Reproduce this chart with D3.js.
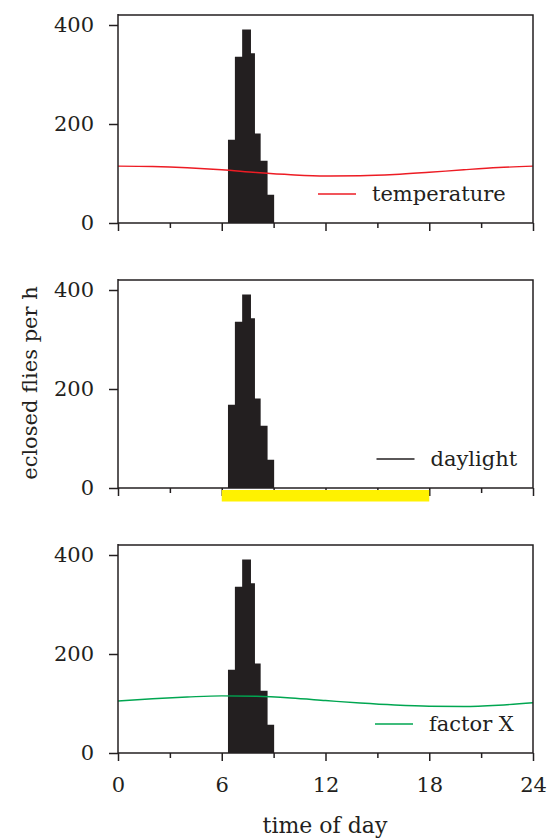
<!DOCTYPE html>
<html>
<head>
<meta charset="utf-8">
<script src="https://cdn.jsdelivr.net/npm/d3@7/dist/d3.min.js"></script>
<style>
  html, body { margin: 0; padding: 0; background: #fff; }
  svg text { font-family: "DejaVu Serif", "Liberation Serif", serif; fill: #231f20; }
</style>
</head>
<body>
<svg id="chart" width="547" height="840"></svg>
<script>
// Eclosion histogram: bin edges (hour of day) and flies per hour
const binStart = [6.36, 6.76, 7.18, 7.69, 7.92, 8.25, 8.65];
const binEnd   = [6.76, 7.18, 7.69, 7.92, 8.25, 8.65, 9.03];
const eclosed  = [168, 336, 391, 343, 181, 126, 57];

// Environmental cycles sampled every two hours (plotted on the same axis)
const hours       = [0, 2, 4, 6, 8, 10, 12, 14, 16, 18, 20, 22, 24];
const temperature = [115, 114, 111.5, 107.5, 102, 97.5, 95, 95.5, 98, 102.5, 107.5, 112, 115];
const factorX     = [105, 109.5, 113, 115.5, 114.5, 111, 106, 101, 97, 94.5, 94, 96.5, 101.5];

// Lights on / lights off
const lightPhase = [6, 18];

// Axis ticks
const xTicks = [0, 3, 6, 9, 12, 15, 18, 21, 24];
const xTickLabels = [0, 6, 12, 18, 24];
const yTicks = [0, 200, 400];

const INK = "#231f20";
const svg = d3.select("#chart");

const x = d3.scaleLinear().domain([0, 24]).range([118, 533]);

// Histogram as one stepped outline: each bin starts at binStart, the last one closes at its binEnd
const histPoints = eclosed.map((v, k) => ({ t: binStart[k], v }))
  .concat([{ t: binEnd[binEnd.length - 1], v: eclosed[eclosed.length - 1] }]);

// Three stacked panels
const panels = [
  { base: 223, legend: "temperature", color: "#ed1c24", curve: temperature, legendX: 318 },
  { base: 488, legend: "daylight",    color: INK,       curve: null,        legendX: 376.5, light: true },
  { base: 753, legend: "factor X",    color: "#00a651", curve: factorX,     legendX: 375 }
];

panels.forEach((p, i) => {
  const y = d3.scaleLinear().domain([0, 420]).range([p.base, p.base - 420 * 0.495]);
  const g = svg.append("g");

  // histogram
  const hist = d3.area()
    .x(d => x(d.t))
    .y0(y(0))
    .y1(d => y(d.v))
    .curve(d3.curveStepAfter);
  g.append("path")
    .datum(histPoints)
    .attr("d", hist)
    .attr("fill", INK);

  // environmental curve
  if (p.curve) {
    const line = d3.line()
      .x((d, k) => x(hours[k]))
      .y(d => y(d))
      .curve(d3.curveMonotoneX);
    g.append("path")
      .datum(p.curve)
      .attr("d", line)
      .attr("fill", "none")
      .attr("stroke", p.color)
      .attr("stroke-width", 1.4);
  }

  // frame: top and right edges
  g.append("path")
    .attr("d", `M${x(0)},${y(420)}H${x(24)}V${y(0)}`)
    .attr("fill", "none")
    .attr("stroke", INK)
    .attr("stroke-width", 1.5);

  // bottom axis with major/minor ticks
  const xAxis = d3.axisBottom(x)
    .tickValues(xTicks)
    .tickSizeInner(0)
    .tickSizeOuter(0)
    .tickFormat(d => (i === 2 && xTickLabels.includes(d)) ? d : "");
  const xg = g.append("g").attr("transform", `translate(0,${y(0)})`).call(xAxis);
  xg.select(".domain").attr("stroke", INK).attr("stroke-width", 1.5).attr("d", `M${x(0)},0H${x(24)}`);
  xg.selectAll(".tick line")
    .attr("stroke", INK)
    .attr("stroke-width", 1.5)
    .attr("y2", d => (d % 6 === 0 ? 8 : 5));
  xg.selectAll(".tick text")
    .attr("y", 24)
    .attr("dy", "0.71em")
    .style("font-size", "21px")
    .style("font-family", "DejaVu Serif, serif")
    .attr("fill", INK);

  // left axis
  const yAxis = d3.axisLeft(y).tickValues(yTicks).tickSizeInner(9).tickSizeOuter(0).tickPadding(15);
  const yg = g.append("g").attr("transform", `translate(${x(0)},0)`).call(yAxis);
  yg.select(".domain").attr("stroke", INK).attr("stroke-width", 1.5)
    .attr("d", `M0,${y(420) - 1}V${y(0)}`);
  yg.selectAll(".tick line").attr("stroke", INK).attr("stroke-width", 1.5);
  yg.selectAll(".tick text")
    .style("font-size", "21px")
    .style("font-family", "DejaVu Serif, serif")
    .attr("fill", INK);

  // light phase bar under the daylight panel
  if (p.light) {
    g.append("rect")
      .attr("x", x(lightPhase[0]))
      .attr("width", x(lightPhase[1]) - x(lightPhase[0]))
      .attr("y", y(0) + 2)
      .attr("height", 11.5)
      .attr("fill", "#fff200");
  }

  // legend entry
  const ly = p.base - 29;
  g.append("line")
    .attr("x1", p.legendX).attr("x2", p.legendX + 38)
    .attr("y1", ly).attr("y2", ly)
    .attr("stroke", p.color).attr("stroke-width", 1.4);
  g.append("text")
    .attr("x", p.legendX + 54)
    .attr("y", ly + 7)
    .style("font-size", "21px")
    .text(p.legend);
});

// shared axis titles
svg.append("text")
  .attr("x", 325).attr("y", 833)
  .attr("text-anchor", "middle")
  .style("font-size", "22px")
  .text("time of day");

svg.append("text")
  .attr("transform", "translate(37,383) rotate(-90)")
  .attr("text-anchor", "middle")
  .style("font-size", "21px")
  .text("eclosed flies per h");
</script>
</body>
</html>
